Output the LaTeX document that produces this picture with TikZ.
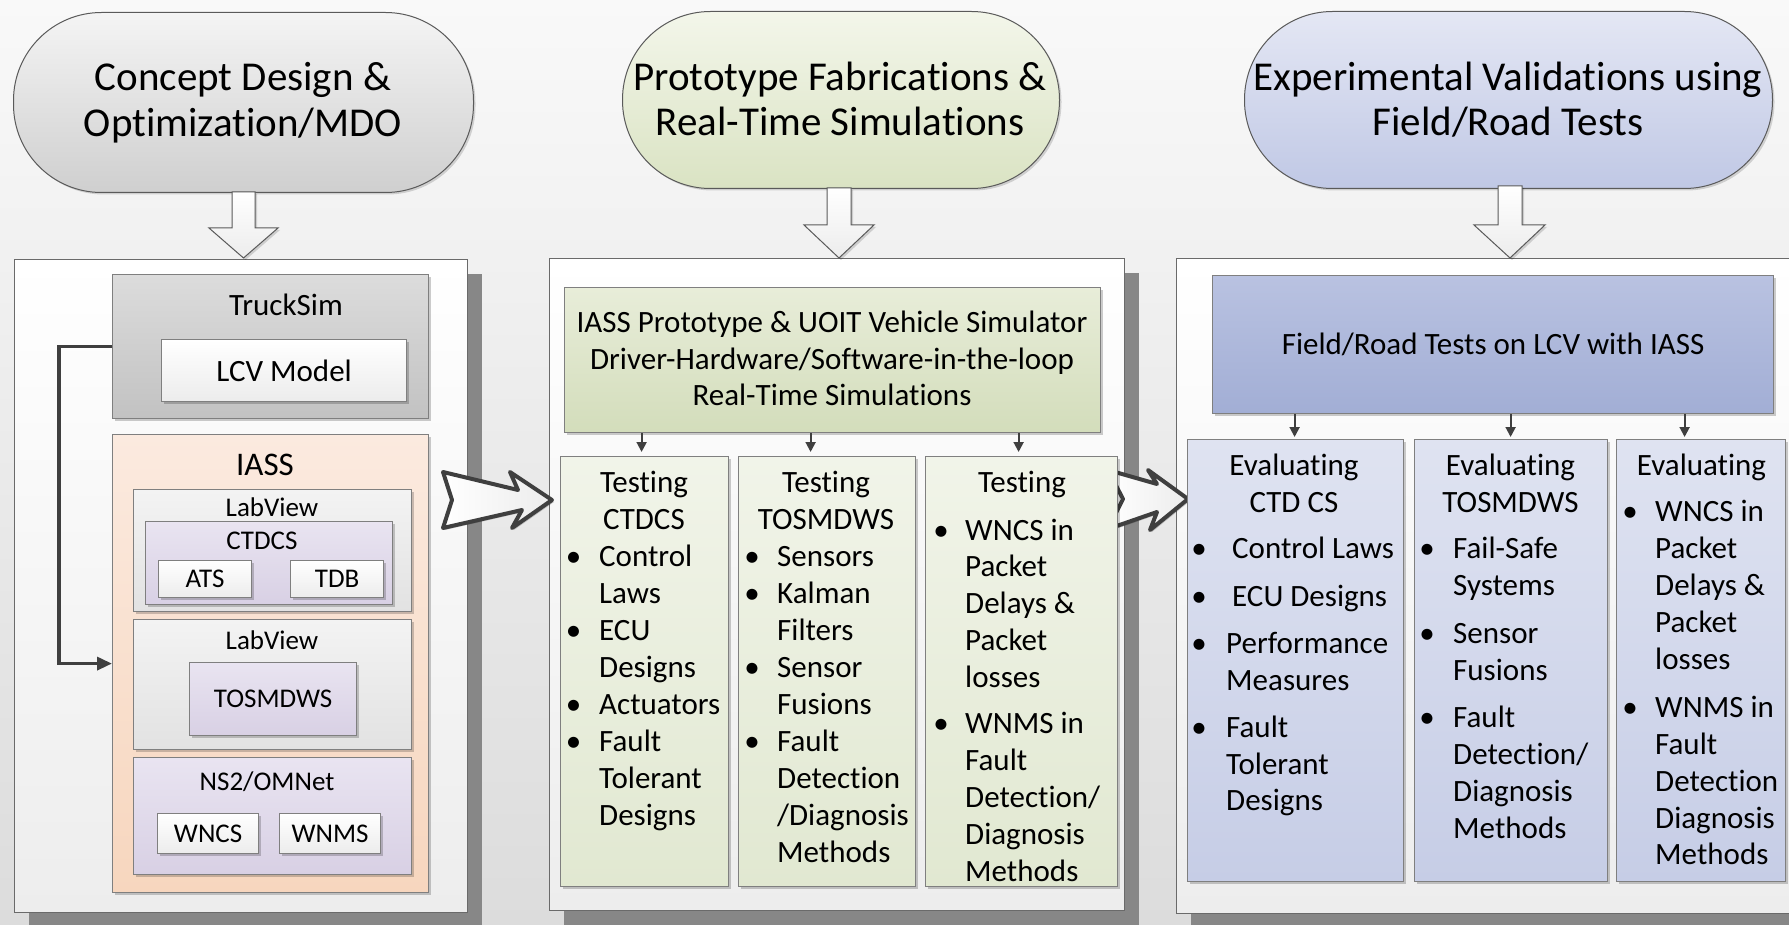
\documentclass[tikz,border=0pt]{standalone}
\usepackage{fontspec}
\setmainfont{Carlito}[Ligatures={NoCommon,NoContextual}, Contextuals=NoAlternate]
\usetikzlibrary{shadows,arrows.meta,calc}
\newcommand\myslash{/}
\definecolor{bgtop}{HTML}{F9F9F9}
\definecolor{bgbot}{HTML}{DCDCDC}
\definecolor{shadowgray}{HTML}{878787}
\definecolor{panelline}{HTML}{6A6A6A}
\definecolor{panelbot}{HTML}{EDEDED}
\definecolor{boxline}{HTML}{7F7F7F}
\definecolor{stadline}{HTML}{5A5A5A}
\definecolor{darkline}{HTML}{3F3F3F}
\definecolor{grayA}{HTML}{F4F4F4}
\definecolor{grayB}{HTML}{CFCFCF}
\definecolor{greenA}{HTML}{F3F6EA}
\definecolor{greenB}{HTML}{DAE3C3}
\definecolor{blueA}{HTML}{E4E7F4}
\definecolor{blueB}{HTML}{C0C8E5}
\definecolor{truckA}{HTML}{DCDCDC}
\definecolor{truckB}{HTML}{C2C2C2}
\definecolor{peachA}{HTML}{FBEADF}
\definecolor{peachB}{HTML}{F7D6BE}
\definecolor{lvA}{HTML}{F3F3F3}
\definecolor{lvB}{HTML}{E2E2E2}
\definecolor{lavA}{HTML}{E9E4F1}
\definecolor{lavB}{HTML}{D8D0E4}
\definecolor{whtB}{HTML}{ECECEC}
\definecolor{mhA}{HTML}{E8EDD9}
\definecolor{mhB}{HTML}{D3DDBB}
\definecolor{mcA}{HTML}{F1F4E9}
\definecolor{mcB}{HTML}{E1E8D1}
\definecolor{rhA}{HTML}{B9C2E1}
\definecolor{rhB}{HTML}{A2AED5}
\definecolor{rcA}{HTML}{DFE3F1}
\definecolor{rcB}{HTML}{C6CDE6}
\begin{document}
\begin{tikzpicture}[x=1pt,y=-1pt,
  f40/.style={font=\fontsize{41}{46}\selectfont, inner sep=0},
  f33/.style={font=\fontsize{33}{38}\selectfont, inner sep=0},
  f30/.style={font=\fontsize{31}{37}\selectfont, inner sep=0},
  f27/.style={font=\fontsize{27}{32}\selectfont, inner sep=0},
  box/.style={draw=boxline, line width=1.2pt, inner sep=0, anchor=north west,
    drop shadow={shadow xshift=2pt, shadow yshift=-2pt, opacity=.2, fill=black}},
  shade/.style n args={2}{top color=#1, bottom color=#2},
  panel/.style={draw=panelline, line width=1.3pt, inner sep=0, anchor=north west,
    top color=white, bottom color=panelbot,
    drop shadow={shadow xshift=14pt, shadow yshift=-14pt, opacity=1, fill=shadowgray}},
  stad/.style={draw=stadline, line width=1pt, rounded corners=88pt, inner sep=0, anchor=north west,
    drop shadow={shadow xshift=2pt, shadow yshift=-2pt, opacity=.15, fill=black}},
  blockarrow/.style={draw=stadline, line width=1pt, top color=white, bottom color=whtB,
    drop shadow={shadow xshift=2pt, shadow yshift=-2pt, opacity=.15, fill=black}},
  notcharrow/.style={draw=darkline, line width=4pt, line join=round, left color=white, right color=whtB,
    drop shadow={shadow xshift=2pt, shadow yshift=-2pt, opacity=.2, fill=black}},
  looparrow/.style={draw=darkline, line width=3.5pt, -{Triangle[length=15pt,width=13pt]}},
  smarrow/.style={draw=darkline, line width=2pt, -{Triangle[length=10pt,width=10pt]}}
]
\useasboundingbox (0,0) rectangle (1789,925);
\fill[top color=bgtop, bottom color=bgbot] (0,0) rectangle (1789,925);

% ---------- top stadiums ----------
\node[stad, shade={grayA}{grayB}, minimum width=460, minimum height=180] (s1) at (13,12) {};
\node[stad, shade={greenA}{greenB}, minimum width=437, minimum height=177] (s2) at (622,11) {};
\node[stad, shade={blueA}{blueB}, minimum width=528, minimum height=177] (s3) at (1244,11) {};
\node[f40, anchor=base] (s1a) at (243,91) {Concept Design \&};
\node[f40, anchor=base] (s1b) at (243,137) {Optimization/MDO};
\node[f40, anchor=base] (s2a) at (840,91) {Prototype Fabrications \&};
\node[f40, anchor=base] (s2b) at (840,136) {Real-Time Simulations};
\node[f40, anchor=base] (s3a) at (1508,91) {Experimental Validations using};
\node[f40, anchor=base] (s3b) at (1508,136) {Field/Road Tests};

% ---------- panels ----------
\node[panel, minimum width=453, minimum height=653] (p1) at (14,259) {};
\node[panel, minimum width=575, minimum height=652] (p2) at (549,258) {};
\node[panel, minimum width=640, minimum height=655] (p3) at (1176,258) {};

% ---------- down block arrows ----------
\draw[blockarrow] (232,192) -- (255,192) -- (255,228) -- (278,228) -- (243.5,258) -- (209,228) -- (232,228) -- cycle;
\draw[blockarrow] (827,188) -- (851,188) -- (851,225) -- (874,225) -- (839,258) -- (804,225) -- (827,225) -- cycle;
\draw[blockarrow] (1498,186) -- (1522,186) -- (1522,225) -- (1545,225) -- (1510,258) -- (1474,225) -- (1498,225) -- cycle;

% ---------- left panel ----------
\node[box, shade={truckA}{truckB}, minimum width=316, minimum height=144] (truck) at (112,274) {};
\node[f30, anchor=base] (truckt) at (286,316) {TruckSim};
\node[box, shade={white}{whtB}, minimum width=245, minimum height=62, f30] (lcv) at (161,339) {LCV Model};
\node[box, shade={peachA}{peachB}, minimum width=316, minimum height=458] (iass) at (112,434) {};
\node[f33, anchor=base] (iasst) at (265,475) {IASS};
\node[box, shade={lvA}{lvB}, minimum width=278, minimum height=122] (lv1) at (133,489) {};
\node[f27, anchor=base] (lv1t) at (272,516) {LabView};
\node[box, shade={lavA}{lavB}, minimum width=247, minimum height=83] (ctdcs) at (145,521) {};
\node[f27, anchor=base] (ctdcst) at (262,549) {CTDCS};
\node[box, shade={white}{whtB}, minimum width=93, minimum height=37, f27] (ats) at (158,560) {ATS};
\node[box, shade={white}{whtB}, minimum width=93, minimum height=37, f27] (tdb) at (290,560) {TDB};
\node[box, shade={lvA}{lvB}, minimum width=278, minimum height=130] (lv2) at (133,619) {};
\node[f27, anchor=base] (lv2t) at (272,649) {LabView};
\node[box, shade={lavA}{lavB}, minimum width=167, minimum height=73, f27] (tosm) at (189,662) {TOSMDWS};
\node[box, shade={lavA}{lavB}, minimum width=278, minimum height=117] (ns2) at (133,757) {};
\node[f27, anchor=base] (ns2t) at (267,790) {NS2/OMNet};
\node[box, shade={white}{whtB}, minimum width=101, minimum height=40, f27] (wncs) at (157,813) {WNCS};
\node[box, shade={white}{whtB}, minimum width=101, minimum height=40, f27] (wnms) at (279,813) {WNMS};
\draw[looparrow] (truck.west) -- ++(-53,0) |- (iass.west);

% ---------- notched arrows ----------
\draw[notcharrow] (443,472) -- (518,490) -- (510,472) -- (552,500) -- (512,528) -- (522,510) -- (443,528) -- (452,500) -- cycle;
\draw[notcharrow] (1108,470) -- (1157,484) -- (1148,470) -- (1188,499) -- (1150,530) -- (1157,512) -- (1108,529) -- (1123,499) -- cycle;

% ---------- middle panel ----------
\node[box, shade={mhA}{mhB}, minimum width=536, minimum height=145] (mh) at (564,287) {};
\node[f30, anchor=base] (mh1) at (832,333) {IASS Prototype \& UOIT Vehicle Simulator};
\node[f30, anchor=base] (mh2) at (832,370) {Driver-Hardware/Software-in-the-loop};
\node[f30, anchor=base] (mh3) at (832,406) {Real-Time Simulations};
\node[box, shade={mcA}{mcB}, minimum width=168, minimum height=430] (m1) at (560,456) {};
\node[box, shade={mcA}{mcB}, minimum width=177, minimum height=430] (m2) at (738,456) {};
\node[box, shade={mcA}{mcB}, minimum width=192, minimum height=430] (m3) at (925,456) {};
\coordinate (ma1) at ([xshift=-3pt]m1.north);
\coordinate (ma2) at ([xshift=-16.5pt]m2.north);
\coordinate (ma3) at ([xshift=-3pt]m3.north);
\foreach \c in {ma1,ma2,ma3}
  \draw[smarrow, shorten >=4pt] (mh.south -| \c) -- (\c);

\foreach \t/\y [count=\i] in {Testing/492, CTDCS/529}
  \node[f30, anchor=base] (m1h\i) at (644,\y) {\t};
\foreach \t/\y [count=\i] in {Control/566, Laws/603, ECU/640, Designs/677, Actuators/714, Fault/751, Tolerant/788, Designs/825}
  \node[f30, anchor=base west] (m1l\i) at (599,\y) {\t};
\foreach \y [count=\i] in {566,640,714,751}
  \node[f30, anchor=base] (m1b\i) at (573.5,\y) {\textbullet};

\foreach \t/\y [count=\i] in {Testing/492, TOSMDWS/529}
  \node[f30, anchor=base] (m2h\i) at (826,\y) {\t};
\foreach \t/\y [count=\i] in {Sensors/566, Kalman/603, Filters/640, Sensor/677, Fusions/714, Fault/751, Detection/788, \myslash Diagnosis/825, Methods/862}
  \node[f30, anchor=base west] (m2l\i) at (777,\y) {\t};
\foreach \y [count=\i] in {566,603,677,751}
  \node[f30, anchor=base] (m2b\i) at (752,\y) {\textbullet};

\node[f30, anchor=base] (m3h1) at (1022,492) {Testing};
\foreach \t/\y [count=\i] in {WNCS in/540, Packet/576, Delays \&/613, Packet/650, losses/687, WNMS in/733, Fault/770, Detection\myslash/807, Diagnosis/844, Methods/881}
  \node[f30, anchor=base west] (m3l\i) at (965,\y) {\t};
\foreach \y [count=\i] in {540,733}
  \node[f30, anchor=base] (m3b\i) at (941,\y) {\textbullet};

% ---------- right panel ----------
\node[box, shade={rhA}{rhB}, minimum width=561, minimum height=138, f30] (rh) at (1212,275) {Field/Road Tests on LCV with IASS};
\node[box, shade={rcA}{rcB}, minimum width=216, minimum height=442] (r1) at (1187,439) {};
\node[box, shade={rcA}{rcB}, minimum width=193, minimum height=442] (r2) at (1414,439) {};
\node[box, shade={rcA}{rcB}, minimum width=169, minimum height=442] (r3) at (1616,439) {};
\coordinate (ra1) at ([xshift=-1pt]r1.north);
\coordinate (ra2) at ([xshift=-0.5pt]r2.north);
\coordinate (ra3) at ([xshift=-16.5pt]r3.north);
\foreach \c in {ra1,ra2,ra3}
  \draw[smarrow, shorten >=2pt] (rh.south -| \c) -- (\c);

\foreach \t/\y [count=\i] in {Evaluating/475, CTD CS/512}
  \node[f30, anchor=base] (r1h\i) at (1294,\y) {\t};
\foreach \t/\y [count=\i] in {Control Laws/558, ECU Designs/606}
  \node[f30, anchor=base west] (r1l\i) at (1232,\y) {\t};
\foreach \t/\y [count=\i] in {Performance/653, Measures/690, Fault/737, Tolerant/774, Designs/810}
  \node[f30, anchor=base west] (r1m\i) at (1226,\y) {\t};
\foreach \y [count=\i] in {558,606,653,737}
  \node[f30, anchor=base] (r1b\i) at (1199,\y) {\textbullet};

\foreach \t/\y [count=\i] in {Evaluating/475, TOSMDWS/512}
  \node[f30, anchor=base] (r2h\i) at (1510.5,\y) {\t};
\foreach \t/\y [count=\i] in {Fail-Safe/558, Systems/595, Sensor/643, Fusions/680, Fault/727, Detection\myslash/764, Diagnosis/801, Methods/838}
  \node[f30, anchor=base west] (r2l\i) at (1453,\y) {\t};
\foreach \y [count=\i] in {558,643,727}
  \node[f30, anchor=base] (r2b\i) at (1427,\y) {\textbullet};

\node[f30, anchor=base] (r3h1) at (1701.5,475) {Evaluating};
\foreach \t/\y [count=\i] in {WNCS in/521, Packet/558, Delays \&/595, Packet/632, losses/669, WNMS in/717, Fault/754, Detection/791, Diagnosis/828, Methods/864}
  \node[f30, anchor=base west] (r3l\i) at (1655,\y) {\t};
\foreach \y [count=\i] in {521,717}
  \node[f30, anchor=base] (r3b\i) at (1630,\y) {\textbullet};
\end{tikzpicture}
\end{document}
